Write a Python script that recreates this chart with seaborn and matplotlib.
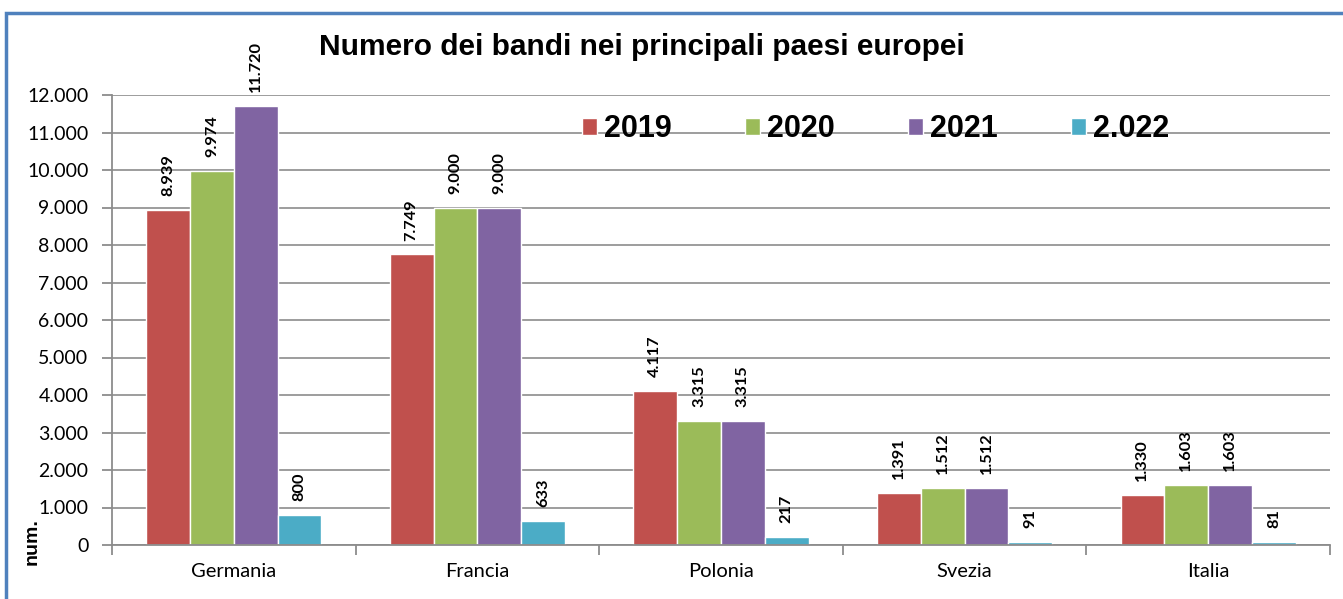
import matplotlib
matplotlib.use("Agg")
import matplotlib.pyplot as plt
import matplotlib.font_manager as fm
from matplotlib.patches import Rectangle
from matplotlib.ticker import FuncFormatter, FixedLocator
import seaborn as sns
import pandas as pd

# ---- data ----
paesi = ["Germania", "Francia", "Polonia", "Svezia", "Italia"]
anni = ["2019", "2020", "2021", "2.022"]
v2019 = [8939, 7749, 4117, 1391, 1330]
v2020 = [9974, 9000, 3315, 1512, 1603]
v2021 = [11720, 9000, 3315, 1512, 1603]
v2022 = [800, 633, 217, 91, 81]
colori = ["#C0504D", "#9BBB59", "#8064A2", "#4BACC6"]
titolo = "Numero dei bandi nei principali paesi europei"
etichetta_y = "num."

serie = [v2019, v2020, v2021, v2022]
df = pd.DataFrame({
    "paese": [p for s in serie for p in paesi],
    "anno": [a for a, s in zip(anni, serie) for _ in s],
    "valore": [v for s in serie for v in s],
})

def it(v, pos=None):
    return f"{int(round(v)):,}".replace(",", ".")

names = {f.name for f in fm.fontManager.ttflist}
tick_family = "Lato" if "Lato" in names else "DejaVu Sans"

sns.set_theme(style="white")
plt.rcParams["font.family"] = ["Liberation Sans", "DejaVu Sans"]
plt.rcParams["text.color"] = "black"
plt.rcParams["xtick.color"] = "black"
plt.rcParams["ytick.color"] = "black"

W, H = 1343, 599
fig = plt.figure(figsize=(W / 100, H / 100), dpi=100)
fig.patch.set_facecolor("white")

def fx(px):
    return px / W

def fy(py):
    return 1 - py / H

ax = fig.add_axes([fx(112), fy(545), fx(1330) - fx(112), fy(95) - fy(545)])

sns.barplot(data=df, x="paese", y="valore", hue="anno", hue_order=anni,
            order=paesi, palette=colori, width=0.72, edgecolor="white",
            linewidth=1, saturation=1, ax=ax, legend=True)

ax.set_ylim(0, 12000)
ax.set_xlim(-0.5, len(paesi) - 0.5)
ax.yaxis.set_major_locator(FixedLocator(list(range(0, 12001, 1000))))
ax.yaxis.set_major_formatter(FuncFormatter(it))
ax.set_axisbelow(True)
ax.grid(axis="y", color="#8c8c8c", linewidth=1.2)
ax.grid(axis="x", visible=False)

for sp in ["top", "right"]:
    ax.spines[sp].set_visible(False)
for sp in ["left", "bottom"]:
    ax.spines[sp].set_color("#8c8c8c")
    ax.spines[sp].set_linewidth(1.3)

# x: category labels at centers, tick marks at boundaries
ax.set_xticks(range(len(paesi)))
ax.set_xticklabels(paesi, fontsize=14.5, family=tick_family, color="black")
ax.tick_params(axis="x", which="major", length=0, pad=13)
ax.set_xticks([i - 0.5 for i in range(len(paesi) + 1)], minor=True)
ax.tick_params(axis="x", which="minor", length=7, width=1.3, color="#8c8c8c",
               direction="out", bottom=True)
ax.tick_params(axis="y", length=7, width=1.3, color="#8c8c8c", direction="out",
               left=True, pad=10, labelsize=14, labelcolor="black")
for t in ax.get_yticklabels():
    t.set_family(tick_family)
ax.set_xlabel("")
ax.set_ylabel("")

for cont, vals in zip(ax.containers, serie):
    ax.bar_label(cont, labels=[it(v) for v in vals], rotation=90,
                 padding=10, fontsize=11.8, fontweight="bold",
                 family=tick_family, color="black")

handles, labels = ax.get_legend_handles_labels()
ax.get_legend().remove()
fig.legend(handles, labels, ncol=4, frameon=False, loc="center",
           bbox_to_anchor=(fx(875.5), fy(129)),
           prop={"family": "Liberation Sans", "weight": "bold", "size": 22},
           handlelength=0.49, handleheight=0.49, handletextpad=0.23,
           columnspacing=2.39, borderpad=0)

fig.text(fx(642), fy(47), titolo, ha="center", va="center",
         fontsize=21.5, fontweight="bold", family="Liberation Sans",
         color="black")
fig.text(fx(32), fy(542), etichetta_y, ha="center", va="center", rotation=90,
         fontsize=14, fontweight="bold", family="Liberation Sans",
         color="black")

# outer blue frame (top & left visible)
fig.patches.append(Rectangle((fx(6), -0.2), 1.2, fy(13) + 0.2,
                             transform=fig.transFigure, fill=False,
                             edgecolor="#4F81BD", linewidth=2.5,
                             clip_on=False, zorder=0))

fig.savefig("out.png", dpi=100)
